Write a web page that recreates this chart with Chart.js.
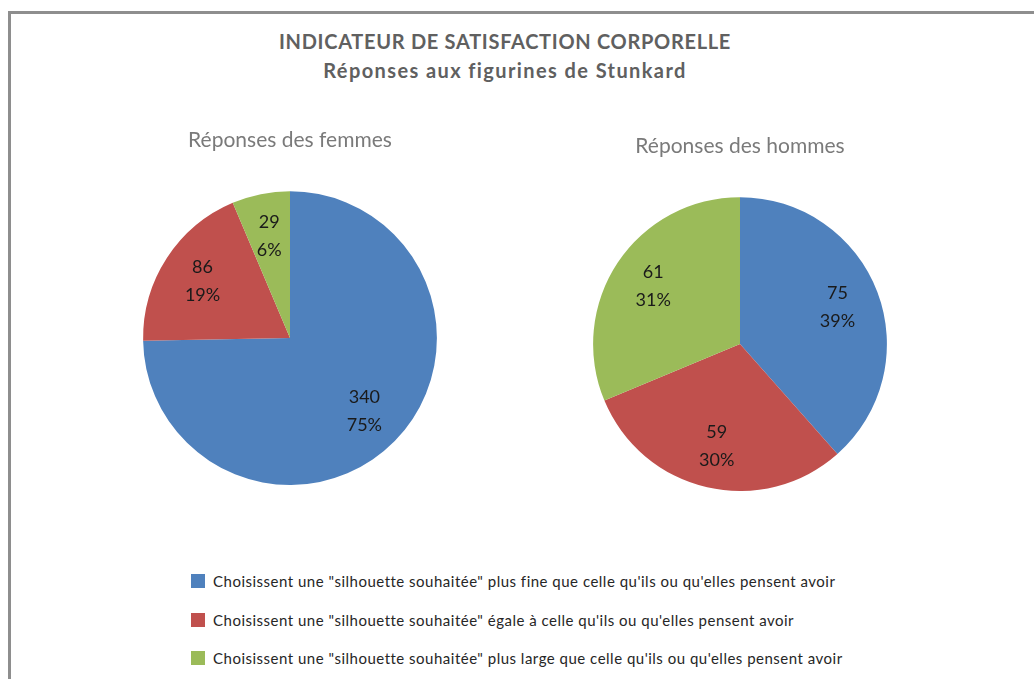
<!DOCTYPE html>
<html lang="fr">
<head>
<meta charset="utf-8">
<script src="https://cdn.jsdelivr.net/npm/chart.js@4.4.1/dist/chart.umd.min.js"></script>
<style>
    html, body {
        margin: 0;
        padding: 0;
        background: #ffffff;
        width: 1034px;
        height: 679px;
        overflow: hidden;
        font-family: Lato, "Open Sans", sans-serif;
    }
    .frame {
        position: absolute;
        left: 8px;
        top: 11px;
        width: 1100px;
        height: 700px;
        border-left: 3px solid #8e8e8e;
        border-top: 3px solid #8e8e8e;
    }
    .title {
        position: absolute;
        left: 0;
        width: 1010px;
        text-align: center;
        color: #606060;
        font-weight: bold;
        font-size: 20px;
    }
    .pie {
        position: absolute;
        width: 320px;
        height: 375px;
    }
    .legend {
        position: absolute;
        left: 191px;
        top: 562px;
        font-size: 15px;
        letter-spacing: 0.5px;
        color: #262626;
    }
    .legend-row {
        display: flex;
        align-items: center;
        height: 38.5px;
    }
    .legend-box {
        width: 14px;
        height: 14px;
        margin-right: 8px;
    }
</style>
</head>
<body>
<div class="frame"></div>
<div class="title" style="top: 29px; letter-spacing: 0.7px;">INDICATEUR DE SATISFACTION CORPORELLE</div>
<div class="title" style="top: 58px; letter-spacing: 1.4px;">Réponses aux figurines de Stunkard</div>

<div class="pie" style="left: 130px; top: 110px;"><canvas id="womenChart"></canvas></div>
<div class="pie" style="left: 580px; top: 116px;"><canvas id="menChart"></canvas></div>

<div class="legend" id="legend"></div>

<script>
const categories = [
    'Choisissent une "silhouette souhaitée" plus fine que celle qu\'ils ou qu\'elles pensent avoir',
    'Choisissent une "silhouette souhaitée" égale à  celle qu\'ils ou qu\'elles pensent avoir',
    'Choisissent une "silhouette souhaitée" plus large que celle qu\'ils ou qu\'elles pensent avoir',
];
const womenValues = [340, 86, 29];
const menValues = [75, 59, 61];
const womenTitle = 'Réponses des femmes';
const menTitle = 'Réponses des hommes';
const colors = ['#4f81bd', '#c0504d', '#9bbb59'];

// percentages rounded so that they add up to 100 (largest remainder)
const roundedPercents = (values) => {
    const total = values.reduce((sum, v) => sum + v, 0);
    const raw = values.map((v) => (v / total) * 100);
    const result = raw.map((p) => Math.floor(p));
    let missing = 100 - result.reduce((sum, v) => sum + v, 0);
    const order = raw
        .map((p, i) => ({ i, rest: p - Math.floor(p) }))
        .sort((a, b) => b.rest - a.rest);
    for (let k = 0; k < order.length && missing > 0; k++, missing--) {
        result[order[k].i] += 1;
    }
    return result;
};

const sliceLabels = {
    id: 'sliceLabels',
    afterDatasetsDraw(chart) {
        const { ctx } = chart;
        const values = chart.data.datasets[0].data;
        const percents = roundedPercents(values);
        const meta = chart.getDatasetMeta(0);
        ctx.save();
        ctx.fillStyle = '#1a1a1a';
        ctx.font = '18px Lato, "Open Sans", sans-serif';
        ctx.textAlign = 'center';
        ctx.textBaseline = 'middle';
        meta.data.forEach((arc, i) => {
            const { x, y, startAngle, endAngle, outerRadius } = arc.getProps(
                ['x', 'y', 'startAngle', 'endAngle', 'outerRadius'],
                true
            );
            const mid = (startAngle + endAngle) / 2;
            const r = outerRadius * 0.71;
            const cx = x + Math.cos(mid) * r;
            const cy = y + Math.sin(mid) * r;
            ctx.fillText(String(values[i]), cx, cy - 14);
            ctx.fillText(`${percents[i]}%`, cx, cy + 14);
        });
        ctx.restore();
    },
};

const buildPie = (canvasId, values, title) => {
    const ctx = document.getElementById(canvasId);
    return new Chart(ctx, {
        type: 'pie',
        data: {
            labels: categories,
            datasets: [
                {
                    data: values,
                    backgroundColor: colors,
                    borderWidth: 0,
                },
            ],
        },
        options: {
            responsive: true,
            maintainAspectRatio: false,
            animation: false,
            layout: { padding: 0 },
            plugins: {
                legend: { display: false },
                tooltip: { enabled: false },
                title: {
                    display: true,
                    text: title,
                    color: '#7a7a7a',
                    font: { family: 'Lato, "Open Sans", sans-serif', size: 21, weight: 'normal' },
                    padding: { top: 18, bottom: 38 },
                },
            },
        },
        plugins: [sliceLabels],
    });
};

buildPie('womenChart', womenValues, womenTitle);
buildPie('menChart', menValues, menTitle);

const legend = document.getElementById('legend');
categories.forEach((label, i) => {
    const row = document.createElement('div');
    row.className = 'legend-row';
    const box = document.createElement('span');
    box.className = 'legend-box';
    box.style.background = colors[i];
    const text = document.createElement('span');
    text.textContent = label;
    row.appendChild(box);
    row.appendChild(text);
    legend.appendChild(row);
});
</script>
</body>
</html>
